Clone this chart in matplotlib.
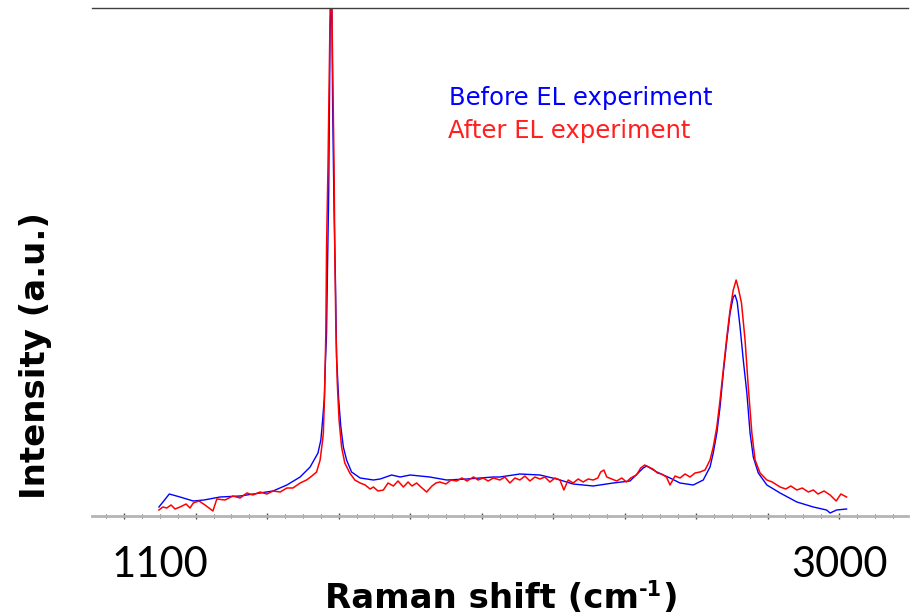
import matplotlib
matplotlib.use("Agg")
import matplotlib.pyplot as plt
from matplotlib.ticker import MultipleLocator

# Raman spectra (intensity in arbitrary units)
before_shift = [1097, 1126, 1156, 1193, 1223, 1268, 1324, 1380, 1416, 1455, 1492, 1520,
                1542, 1550, 1555, 1560, 1562, 1566, 1568, 1572, 1574, 1576, 1578, 1579,
                1581, 1583, 1587, 1591, 1594, 1600, 1606, 1613, 1622, 1636, 1660, 1697,
                1716, 1748, 1772, 1800, 1855, 1902, 1958, 2033, 2051, 2107, 2163, 2210,
                2256, 2312, 2368, 2415, 2452, 2462, 2490, 2527, 2555, 2592, 2620, 2639,
                2648, 2658, 2667, 2676, 2686, 2695, 2704, 2709, 2715, 2723, 2732, 2742,
                2751, 2760, 2774, 2798, 2835, 2882, 2928, 2965, 2975, 2993, 3021]
before_int = [9, 22, 19, 15, 16, 19, 20, 23, 25, 31, 39, 49,
              63, 76, 96, 119, 146, 183, 233, 323, 406, 486, 506, 530,
              503, 409, 306, 233, 159, 116, 89, 69, 56, 44, 38, 36,
              37, 41, 39, 41, 39, 36, 37, 39, 39, 42, 41, 37,
              32, 30, 33, 35, 48, 50, 44, 38, 33, 31, 36, 49,
              63, 83, 109, 143, 176, 203, 219, 221, 214, 189, 156, 123,
              83, 59, 43, 31, 23, 14, 9, 6, 3, 6, 7]

after_shift = [1097, 1108, 1119, 1131, 1142, 1156, 1173, 1184, 1193, 1209, 1226, 1248,
               1259, 1282, 1304, 1324, 1343, 1360, 1380, 1399, 1416, 1436, 1455, 1472,
               1492, 1510, 1525, 1538, 1548, 1555, 1557, 1560, 1564, 1566, 1570, 1574,
               1576, 1580, 1583, 1587, 1589, 1592, 1596, 1601, 1608, 1617, 1631, 1645,
               1660, 1674, 1688, 1697, 1710, 1725, 1738, 1753, 1766, 1781, 1794, 1805,
               1818, 1830, 1846, 1861, 1872, 1883, 1900, 1914, 1930, 1945, 1959, 1977,
               1990, 2004, 2018, 2033, 2051, 2065, 2079, 2093, 2107, 2121, 2135, 2149,
               2163, 2177, 2191, 2205, 2219, 2230, 2242, 2256, 2270, 2284, 2298, 2312,
               2325, 2333, 2342, 2350, 2364, 2378, 2392, 2405, 2417, 2433, 2445, 2456,
               2467, 2479, 2492, 2503, 2517, 2527, 2541, 2555, 2569, 2583, 2597, 2611,
               2625, 2639, 2648, 2658, 2667, 2676, 2686, 2695, 2704, 2712, 2718, 2727,
               2737, 2746, 2756, 2765, 2779, 2798, 2813, 2835, 2851, 2865, 2882, 2897,
               2914, 2928, 2941, 2958, 2975, 2992, 3005, 3021]
after_int = [6, 9, 8, 11, 7, 9, 12, 8, 13, 15, 11, 5,
             17, 16, 20, 18, 23, 21, 24, 22, 25, 24, 28, 28,
             33, 36, 40, 44, 56, 76, 83, 116, 183, 269, 349, 449,
             506, 530, 449, 349, 266, 189, 133, 96, 69, 53, 43, 36,
             33, 31, 27, 29, 25, 26, 33, 30, 35, 29, 34, 30,
             33, 29, 24, 30, 33, 34, 32, 36, 35, 38, 35, 39,
             36, 38, 35, 38, 36, 39, 33, 38, 36, 40, 35, 39,
             37, 39, 34, 38, 36, 26, 36, 33, 37, 34, 37, 36,
             38, 44, 46, 39, 37, 35, 38, 34, 38, 41, 48, 51,
             49, 47, 43, 42, 39, 31, 40, 38, 42, 39, 43, 44,
             46, 56, 69, 89, 116, 146, 179, 206, 226, 236, 228, 213,
             176, 129, 83, 56, 43, 36, 34, 29, 27, 30, 26, 28,
             24, 26, 22, 25, 21, 15, 22, 19]

W, H = 913, 616
fig = plt.figure(figsize=(W / 100, H / 100), dpi=100)
ax = fig.add_axes([92 / W, 1 - 516 / H, 816 / W, 508 / H])

ax.plot(before_shift, before_int, color="#0000ff", lw=1.0)
ax.plot(after_shift, after_int, color="#ff0000", lw=1.1)

ax.set_xlim(909.7, 3192.9)
ax.set_ylim(0, 508)

# only a top line and a grey bottom axis, no y axis
ax.spines["left"].set_visible(False)
ax.spines["right"].set_visible(False)
ax.spines["top"].set_color("#404040")
ax.spines["top"].set_linewidth(1.0)
ax.spines["bottom"].set_color("#b4b4b4")
ax.spines["bottom"].set_linewidth(2.0)
ax.set_yticks([])
ax.xaxis.set_major_locator(MultipleLocator(200))
ax.xaxis.set_minor_locator(MultipleLocator(50))
ax.tick_params(axis="x", which="major", direction="inout", length=5, width=1, color="#505050",
               labelbottom=False)
ax.tick_params(axis="x", which="minor", direction="inout", length=3, width=0.8, color="#505050")

tr = ax.get_xaxis_transform()
ax.text(1100, -0.097, "1100", transform=tr, ha="center", va="center",
        fontsize=30, family="Lato", clip_on=False)
ax.text(3000, -0.097, "3000", transform=tr, ha="center", va="center",
        fontsize=30, family="Lato", clip_on=False)

# x label built from pieces so the superscript keeps a plain hyphen
lab_font = dict(family="DejaVu Sans", fontweight="bold")
base_y = 1 - 608 / H
t1 = fig.text(0, base_y, "Raman shift (cm", fontsize=24.5, va="baseline", **lab_font)
t2 = fig.text(0, base_y + 12 / H, "-1", fontsize=15, va="baseline", **lab_font)
t3 = fig.text(0, base_y, ")", fontsize=24.5, va="baseline", **lab_font)
fig.canvas.draw()
rend = fig.canvas.get_renderer()
w1 = t1.get_window_extent(rend).width
w2 = t2.get_window_extent(rend).width
w3 = t3.get_window_extent(rend).width
x0 = 501 - (w1 + w2 + w3) / 2
t1.set_x(x0 / W)
t2.set_x((x0 + w1) / W)
t3.set_x((x0 + w1 + w2) / W)

fig.text(36 / W, 1 - 356 / H, "Intensity (a.u.)", ha="center", va="center",
         rotation=90, fontsize=24.5, **lab_font)

fig.text(449 / W, 1 - 105 / H, "Before EL experiment", color="#0000ff", fontsize=17.5,
         family="DejaVu Sans", ha="left", va="baseline")
fig.text(448 / W, 1 - 138 / H, "After EL experiment", color="#ff2020", fontsize=17.5,
         family="DejaVu Sans", ha="left", va="baseline")

fig.savefig("out.png", dpi=100)
